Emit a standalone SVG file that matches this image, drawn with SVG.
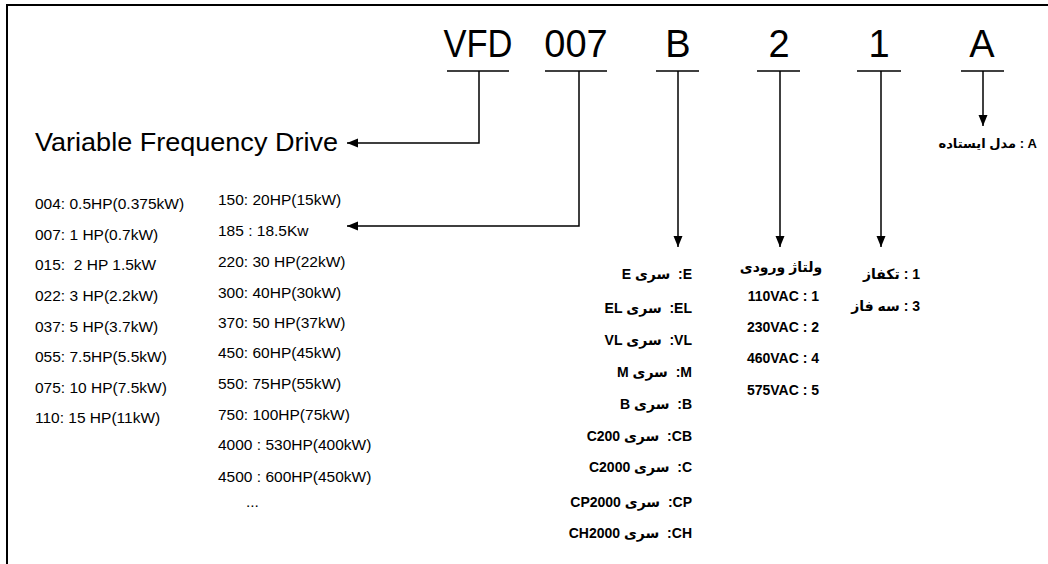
<svg xmlns="http://www.w3.org/2000/svg" width="1048" height="564" viewBox="0 0 1048 564">
<style>
.big{font-family:"Liberation Sans",Arial,sans-serif;font-size:38px;fill:#000;text-anchor:middle}
.t{font-family:"Liberation Sans",Arial,sans-serif;font-size:15.5px;fill:#000}
.b{font-family:"Liberation Sans","DejaVu Sans",sans-serif;font-size:14px;font-weight:bold;fill:#000}
.fa{font-family:"Liberation Sans","DejaVu Sans",sans-serif;font-size:14px;font-weight:bold;fill:#000;direction:rtl;unicode-bidi:embed;text-anchor:start}
.ln{fill:none;stroke:#000;stroke-width:1.5}
.ul{stroke:#000;stroke-width:1.5}
</style>
<defs>
<marker id="ah" markerUnits="userSpaceOnUse" markerWidth="12" markerHeight="12" viewBox="0 0 12 12" refX="11" refY="6" orient="auto">
<path d="M0,1.5 L11,6 L0,10.5 Z" fill="#000"/>
</marker>
</defs>
<path d="M7,564 V5 H1048" fill="none" stroke="#000" stroke-width="2"/>

<g id="code-vfd"><text class="big" x="478" y="57" textLength="69" lengthAdjust="spacingAndGlyphs">VFD</text><line class="ul" x1="447" y1="71" x2="509" y2="71"/></g>
<g id="code-007"><text class="big" x="576" y="57">007</text><line class="ul" x1="545" y1="71" x2="607" y2="71"/></g>
<g id="code-b"><text class="big" x="678" y="57">B</text><line class="ul" x1="656" y1="71" x2="699" y2="71"/></g>
<g id="code-2"><text class="big" x="779" y="57">2</text><line class="ul" x1="757" y1="71" x2="800" y2="71"/></g>
<g id="code-1"><text class="big" x="879" y="57">1</text><line class="ul" x1="857" y1="71" x2="901" y2="71"/></g>
<g id="code-a"><text class="big" x="982" y="57">A</text><line class="ul" x1="961" y1="71" x2="1004" y2="71"/></g>

<g id="connectors">
<path class="ln" d="M479,71 V143 H347" marker-end="url(#ah)"/>
<path class="ln" d="M579,71 V226 H347" marker-end="url(#ah)"/>
<path class="ln" d="M678,71 V247" marker-end="url(#ah)"/>
<path class="ln" d="M780,71 V247" marker-end="url(#ah)"/>
<path class="ln" d="M881,71 V247" marker-end="url(#ah)"/>
<path class="ln" d="M983,71 V126" marker-end="url(#ah)"/>
</g>

<g id="vfd-desc"><text x="35" y="151" font-family="Liberation Sans,Arial,sans-serif" font-size="26" textLength="303" lengthAdjust="spacingAndGlyphs">Variable Frequency Drive</text></g>

<g id="power-list">
<text class="t" x="35" y="209">004: 0.5HP(0.375kW)</text>
<text class="t" x="35" y="240">007: 1 HP(0.7kW)</text>
<text class="t" x="35" y="270">015:&#160; 2 HP 1.5kW</text>
<text class="t" x="35" y="301">022: 3 HP(2.2kW)</text>
<text class="t" x="35" y="332">037: 5 HP(3.7kW)</text>
<text class="t" x="35" y="362">055: 7.5HP(5.5kW)</text>
<text class="t" x="35" y="393">075: 10 HP(7.5kW)</text>
<text class="t" x="35" y="423">110: 15 HP(11kW)</text>
<text class="t" x="218" y="205">150: 20HP(15kW)</text>
<text class="t" x="218" y="236">185 : 18.5Kw</text>
<text class="t" x="218" y="267">220: 30 HP(22kW)</text>
<text class="t" x="218" y="298">300: 40HP(30kW)</text>
<text class="t" x="218" y="328">370: 50 HP(37kW)</text>
<text class="t" x="218" y="358">450: 60HP(45kW)</text>
<text class="t" x="218" y="389">550: 75HP(55kW)</text>
<text class="t" x="218" y="420">750: 100HP(75kW)</text>
<text class="t" x="218" y="450">4000 : 530HP(400kW)</text>
<text class="t" x="218" y="482">4500 : 600HP(450kW)</text>
<text class="t" x="246" y="507">...</text>
</g>

<g id="series-list">
<text class="fa" x="692" y="279">E:&#160; سری E</text>
<text class="fa" x="692" y="313">EL:&#160; سری EL</text>
<text class="fa" x="692" y="345">VL:&#160; سری VL</text>
<text class="fa" x="692" y="377">M:&#160; سری M</text>
<text class="fa" x="692" y="409">B:&#160; سری B</text>
<text class="fa" x="692" y="441">CB:&#160; سری C200</text>
<text class="fa" x="692" y="472">C:&#160; سری C2000</text>
<text class="fa" x="692" y="507">CP:&#160; سری CP2000</text>
<text class="fa" x="692" y="538">CH:&#160; سری CH2000</text>
</g>

<g id="voltage-list">
<text class="b" x="781" y="272" text-anchor="middle" direction="rtl">ولتاژ ورودی</text>
<text class="b" x="819" y="301" text-anchor="end">110VAC : 1</text>
<text class="b" x="819" y="332" text-anchor="end">230VAC : 2</text>
<text class="b" x="819" y="363" text-anchor="end">460VAC : 4</text>
<text class="b" x="819" y="395" text-anchor="end">575VAC : 5</text>
</g>

<g id="phase-list">
<text class="fa" x="920" y="279" font-size="13.5">1 : تکفاز</text>
<text class="fa" x="920" y="311" font-size="13.5">3 : سه فاز</text>
</g>

<g id="model-desc">
<text class="fa" x="1037" y="148" style="font-size:13px">A : مدل ایستاده</text>
</g>
</svg>
